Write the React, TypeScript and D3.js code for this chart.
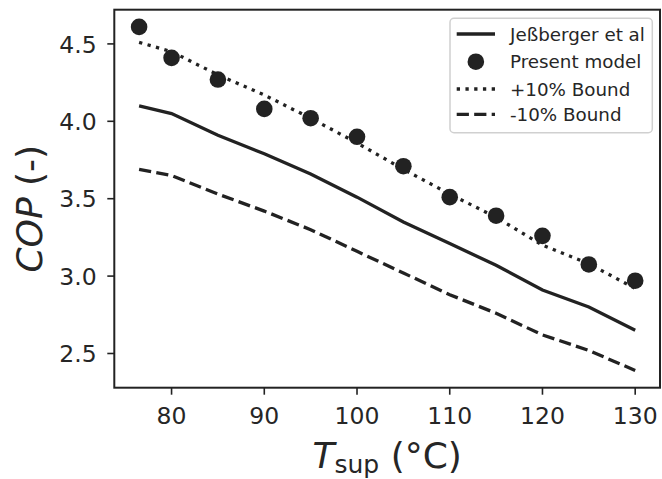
import React from "react";
import * as d3 from "d3";

const temps = [76.5, 80, 85, 90, 95, 100, 105, 110, 115, 120, 125, 130];
const jessberger = [4.10, 4.05, 3.91, 3.79, 3.66, 3.51, 3.35, 3.21, 3.07, 2.91, 2.80, 2.65];
const presentModel = [4.61, 4.41, 4.27, 4.08, 4.02, 3.90, 3.71, 3.51, 3.39, 3.26, 3.075, 2.97];
const upperBound = [4.51, 4.45, 4.30, 4.17, 4.02, 3.86, 3.69, 3.53, 3.38, 3.20, 3.08, 2.92];
const lowerBound = [3.69, 3.65, 3.53, 3.42, 3.30, 3.16, 3.02, 2.88, 2.76, 2.62, 2.52, 2.39];
const xTicks = [80, 90, 100, 110, 120, 130];
const yTicks = [2.5, 3.0, 3.5, 4.0, 4.5];
const legendLabels = ["Jeßberger et al", "Present model", "+10% Bound", "-10% Bound"];

const W = 662, H = 479;
const L = 114.3, R = 660, T = 9.7, B = 387.7;
const INK = "#222222";
const TXT = "#262626";
const FONT = "DejaVu Sans, sans-serif";

function pad(ext: [number, number]): [number, number] {
  const d = (ext[1] - ext[0]) * 0.05;
  return [ext[0] - d, ext[1] + d];
}

export default function App() {
  const xs = d3.scaleLinear().domain(pad(d3.extent(temps) as [number, number])).range([L, R]);
  const allY = [...jessberger, ...presentModel, ...upperBound, ...lowerBound];
  const ys = d3.scaleLinear().domain(pad(d3.extent(allY) as [number, number])).range([B, T]);
  const line = (vals: number[]) =>
    d3.line<number>().x((_, i) => xs(temps[i])).y((v) => ys(v))(vals) || "";

  const lw = 3.3;
  const dotted = `${lw * 1} ${lw * 1.65}`;
  const dashed = `${lw * 3.7} ${lw * 1.6}`;

  const legX0 = 456.7, legX1 = 495, legTextX = 510;
  const legRows = [34, 61.7, 89, 114.3];

  return (
    <svg width={W} height={H} style={{ position: "absolute", left: 0, top: 0, background: "#fff" }} fontFamily={FONT}>
      {/* series */}
      <path d={line(upperBound)} fill="none" stroke={INK} strokeWidth={lw} strokeDasharray={dotted} />
      <path d={line(lowerBound)} fill="none" stroke={INK} strokeWidth={lw} strokeDasharray={dashed} />
      <path d={line(jessberger)} fill="none" stroke={INK} strokeWidth={lw} />
      {presentModel.map((v, i) => (
        <circle key={i} cx={xs(temps[i])} cy={ys(v)} r={8.3} fill={INK} />
      ))}

      {/* frame */}
      <rect x={L} y={T} width={R - L} height={B - T} fill="none" stroke={INK} strokeWidth={2} />

      {/* x ticks */}
      {xTicks.map((t) => (
        <g key={t}>
          <line x1={xs(t)} x2={xs(t)} y1={B} y2={B + 7} stroke={INK} strokeWidth={1.6} />
          <text x={xs(t)} y={424.3} textAnchor="middle" fontSize={23.5} fill={TXT}>{t}</text>
        </g>
      ))}
      {/* y ticks */}
      {yTicks.map((t) => (
        <g key={t}>
          <line x1={L - 7} x2={L} y1={ys(t)} y2={ys(t)} stroke={INK} strokeWidth={1.6} />
          <text x={96.7} y={ys(t) + 8.6} textAnchor="end" fontSize={23.5} fill={TXT}>{t.toFixed(1)}</text>
        </g>
      ))}

      {/* axis labels */}
      <text x={(L + R) / 2} y={468} textAnchor="middle" fontSize={36} fill={TXT}>
        <tspan fontStyle="italic">T</tspan>
        <tspan fontSize={25} dy={5}>sup</tspan>
        <tspan dy={-5}> (°C)</tspan>
      </text>
      <text transform={`translate(41.7, ${(T + B) / 2 + 10}) rotate(-90)`} textAnchor="middle" fontSize={36} fill={TXT}>
        <tspan fontStyle="italic">COP</tspan>
        <tspan> (-)</tspan>
      </text>

      {/* legend */}
      <rect x={450} y={18.3} width={202.3} height={114.4} rx={4} fill="#ffffff" fillOpacity={0.85} stroke="#d0d0d0" strokeWidth={1.5} />
      <line x1={legX0} x2={legX1} y1={legRows[0]} y2={legRows[0]} stroke={INK} strokeWidth={lw} />
      <circle cx={(legX0 + legX1) / 2} cy={legRows[1]} r={8.3} fill={INK} />
      <line x1={legX0} x2={legX1} y1={legRows[2]} y2={legRows[2]} stroke={INK} strokeWidth={lw} strokeDasharray={dotted} />
      <line x1={legX0} x2={legX1} y1={legRows[3]} y2={legRows[3]} stroke={INK} strokeWidth={lw} strokeDasharray={dashed} />
      {legendLabels.map((lab, i) => (
        <text key={lab} x={legTextX} y={legRows[i] + 6.6} fontSize={18.3} fill={TXT}>{lab}</text>
      ))}
    </svg>
  );
}
